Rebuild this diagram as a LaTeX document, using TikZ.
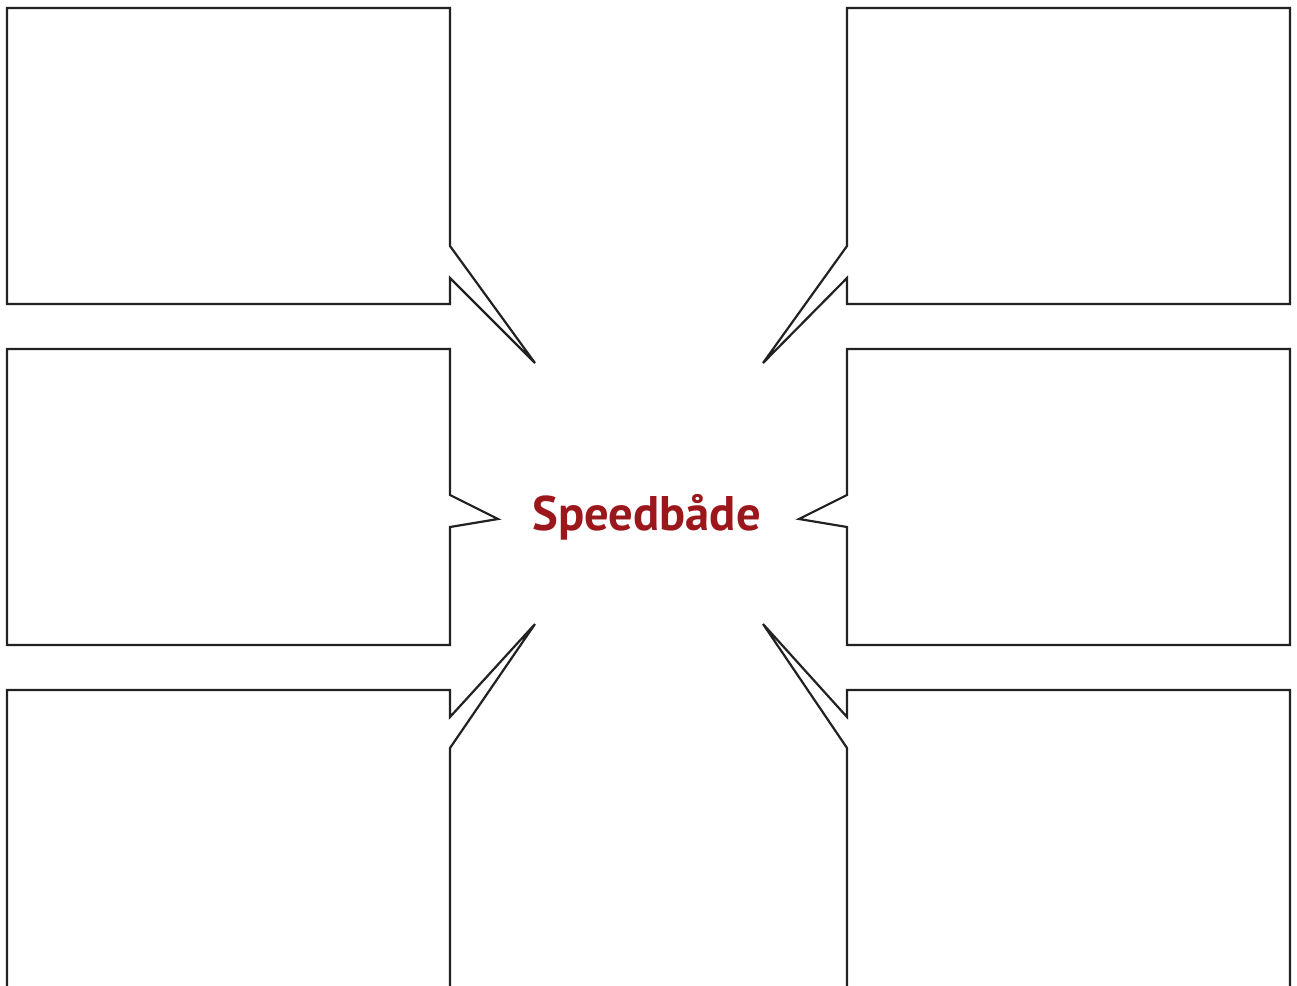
\documentclass[tikz,border=0pt]{standalone}
\usepackage{fontspec}
\setmainfont{PT Sans}
\definecolor{titlered}{HTML}{9B171C}
\definecolor{linegray}{HTML}{222222}
\tikzset{callout/.style={draw=linegray, line width=2.2pt, fill=white, line join=miter}}
\begin{document}
\begin{tikzpicture}[x=1pt,y=-1pt]
\useasboundingbox (0,0) rectangle (1297,985);
% left column
\draw[callout] (7,8) -- (450,8) -- (450,246) -- (535,363) -- (450,278) -- (450,304) -- (7,304) -- cycle;
\draw[callout] (7,349) -- (450,349) -- (450,495) -- (498,519) -- (450,527) -- (450,645) -- (7,645) -- cycle;
\draw[callout] (7,1000) -- (7,690) -- (450,690) -- (450,717) -- (535,624) -- (450,748) -- (450,1000);
% right column
\draw[callout] (1290,8) -- (847,8) -- (847,246) -- (763,363) -- (847,278) -- (847,304) -- (1290,304) -- cycle;
\draw[callout] (1290,349) -- (847,349) -- (847,495) -- (799,519) -- (847,527) -- (847,645) -- (1290,645) -- cycle;
\draw[callout] (1290,1000) -- (1290,690) -- (847,690) -- (847,717) -- (763,624) -- (847,748) -- (847,1000);
\node[text=titlered, font=\fontsize{48.6}{56}\selectfont\bfseries, anchor=base] (title) at (646.5,530) {Speedbåde};
\end{tikzpicture}
\end{document}
